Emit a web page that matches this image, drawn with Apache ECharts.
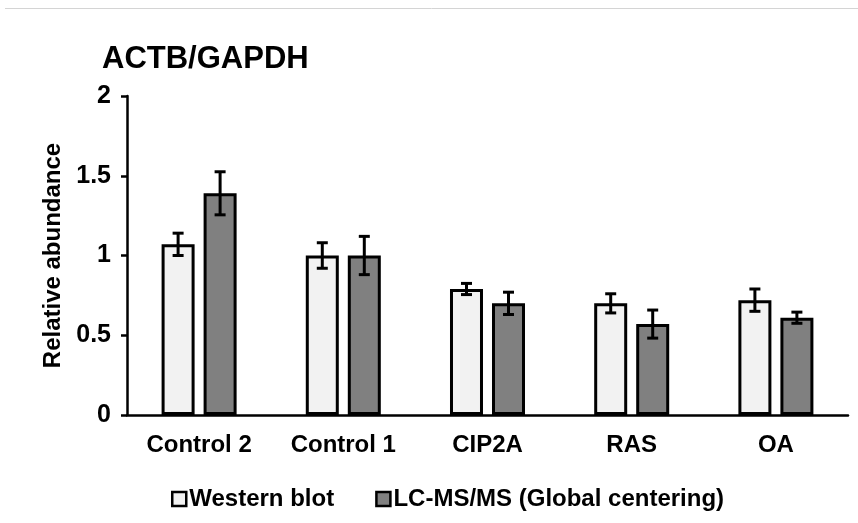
<!DOCTYPE html>
<html>
<head>
<meta charset="utf-8">
<script src="https://cdn.jsdelivr.net/npm/echarts@6/dist/echarts.min.js"></script>
<style>html,body{margin:0;padding:0;background:#fff;}#c{width:858px;height:523px;}</style>
</head>
<body>
<div id="c"></div>
<script>
const categories = ['Control 2', 'Control 1', 'CIP2A', 'RAS', 'OA'];
const westernBlot = [1.07, 1.00, 0.79, 0.70, 0.72];
const westernErr = [0.07, 0.08, 0.035, 0.06, 0.07];
const lcms = [1.39, 1.00, 0.70, 0.57, 0.61];
const lcmsErr = [0.135, 0.12, 0.07, 0.088, 0.035];
const yTicks = [0, 0.5, 1, 1.5, 2];

const FONT = 'Liberation Sans, Arial, sans-serif';
const BAR_W = 33, GAP = 9;
const OFF = (BAR_W + GAP) / 2;

function errSeries(vals, errs, dir) {
  return {
    type: 'custom',
    silent: true,
    z: 10,
    data: vals.map((v, i) => [i, v, errs[i]]),
    renderItem: function (params, api) {
      const i = api.value(0), v = api.value(1), e = api.value(2);
      const top = api.coord([i, v + e]);
      const bot = api.coord([i, v - e]);
      const x = top[0] + dir * OFF;
      const cap = 5.5;
      const st = { stroke: '#000', lineWidth: 3 };
      return {
        type: 'group',
        children: [
          { type: 'line', shape: { x1: x, y1: top[1], x2: x, y2: bot[1] }, style: st },
          { type: 'line', shape: { x1: x - cap, y1: top[1], x2: x + cap, y2: top[1] }, style: st },
          { type: 'line', shape: { x1: x - cap, y1: bot[1], x2: x + cap, y2: bot[1] }, style: st }
        ]
      };
    }
  };
}

const chart = echarts.init(document.getElementById('c'));
chart.setOption({
  animation: false,
  backgroundColor: '#fff',
  title: {
    text: 'ACTB/GAPDH',
    left: 97, top: 39,
    textStyle: { fontFamily: FONT, fontWeight: 'bold', fontSize: 31, color: '#000' }
  },
  graphic: [{
    type: 'line', shape: { x1: 5, y1: 8.5, x2: 858, y2: 8.5 },
    style: { stroke: '#d4d4d4', lineWidth: 1 }
  }],
  legend: {
    left: 166, top: 482,
    itemWidth: 14, itemHeight: 14, itemGap: 41,
    icon: 'rect',
    textStyle: { fontFamily: FONT, fontWeight: 'bold', fontSize: 24, color: '#000', padding: [0, 0, 0, -2] },
    data: [
      { name: 'Western blot', itemStyle: { color: '#f2f2f2', borderColor: '#000', borderWidth: 2.5 } },
      { name: 'LC-MS/MS (Global centering)', itemStyle: { color: '#808080', borderColor: '#000', borderWidth: 2.5 } }
    ]
  },
  grid: { left: 127, right: 10, top: 96, bottom: 108, containLabel: false },
  xAxis: {
    type: 'category',
    data: categories,
    axisLine: { lineStyle: { color: '#000', width: 2.5 } },
    axisTick: { show: false },
    axisLabel: { fontFamily: FONT, fontWeight: 'bold', fontSize: 24, color: '#000', margin: 18 }
  },
  yAxis: {
    type: 'value',
    min: 0, max: 2, interval: 0.5,
    name: 'Relative abundance',
    nameLocation: 'middle',
    nameGap: 62,
    nameTextStyle: { fontFamily: FONT, fontWeight: 'bold', fontSize: 24, color: '#000' },
    axisLine: { show: true, lineStyle: { color: '#000', width: 2.5 } },
    axisTick: { show: true, length: 6, lineStyle: { color: '#000', width: 2.5 } },
    splitLine: { show: false },
    axisLabel: {
      fontFamily: FONT, fontWeight: 'bold', fontSize: 25, color: '#000', margin: 16,
      formatter: function (v) { return yTicks.indexOf(v) >= 0 ? String(v) : ''; }
    }
  },
  series: [
    {
      name: 'Western blot', type: 'bar', data: westernBlot,
      barWidth: BAR_W, barGap: (GAP / BAR_W * 100).toFixed(1) + '%',
      itemStyle: { color: '#f2f2f2', borderColor: '#000', borderWidth: 3 }
    },
    {
      name: 'LC-MS/MS (Global centering)', type: 'bar', data: lcms,
      barWidth: BAR_W,
      itemStyle: { color: '#808080', borderColor: '#000', borderWidth: 3 }
    },
    errSeries(westernBlot, westernErr, -1),
    errSeries(lcms, lcmsErr, 1)
  ]
});
</script>
</body>
</html>
